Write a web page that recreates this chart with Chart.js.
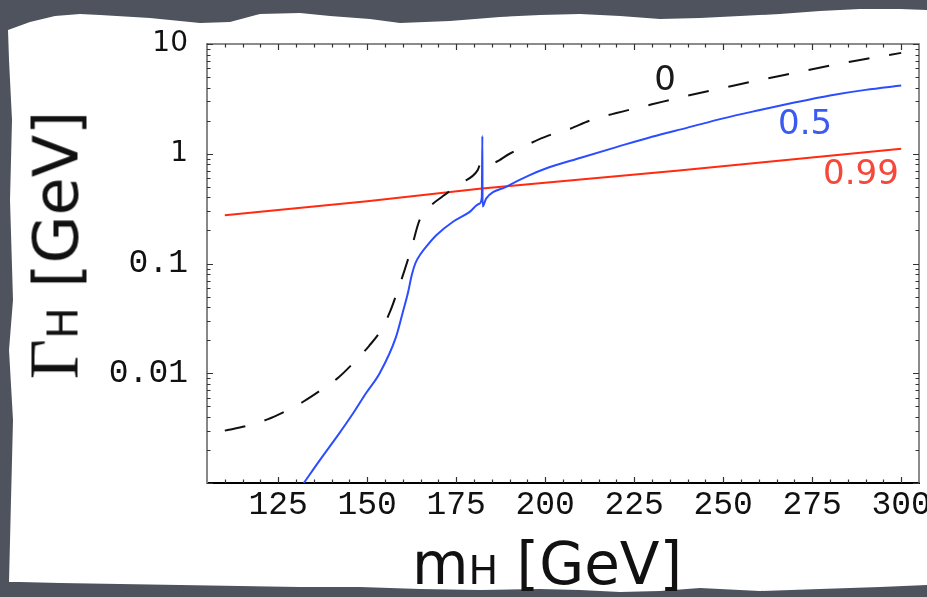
<!DOCTYPE html>
<html>
<head>
<meta charset="utf-8">
<script src="https://cdn.jsdelivr.net/npm/chart.js@4"></script>
<style>
  html, body { margin: 0; padding: 0; background: #4e535d; }
  #wrap { position: relative; width: 927px; height: 597px; overflow: hidden; background: #4e535d; }
  #paper {
    position: absolute; left: 0; top: 0; width: 927px; height: 597px; background: #ffffff;
    clip-path: polygon(8px 30px, 30px 22px, 55px 16px, 80px 14px, 100px 15px, 150px 18px, 200px 23px, 230px 22px, 260px 14px, 300px 13px, 330px 16px, 370px 19px, 400px 23px, 450px 21px, 500px 17px, 540px 15px, 580px 14px, 620px 16px, 660px 19px, 700px 18px, 740px 16px, 780px 14px, 820px 11px, 860px 9px, 900px 9px, 927px 10px, 927px 585px, 880px 587px, 820px 589px, 760px 591px, 700px 588px, 660px 591px, 620px 592px, 580px 590px, 540px 589px, 480px 590px, 420px 589px, 360px 587px, 300px 587px, 240px 586px, 180px 585px, 120px 584px, 60px 583px, 20px 582px, 9px 582px, 11px 500px, 13px 420px, 9px 350px, 13px 300px, 10px 200px, 12px 120px, 9px 60px);
  }
  canvas { position: absolute; left: 0; top: 0; }
  .xt { position: absolute; left: 412px; top: 535px; font-family: "DejaVu Sans", sans-serif; font-size: 58px; line-height: 58px; color: #111; white-space: nowrap; }
  .yt { position: absolute; left: 59px; top: 245px; font-family: "DejaVu Sans", sans-serif; font-size: 62px; line-height: 62px; color: #111; white-space: nowrap; transform: translate(-50%, -50%) rotate(-90deg); }
  .sub { font-size: 0.68em; }
  .gam { font-family: "Liberation Serif", serif; font-size: 1.12em; }
</style>
</head>
<body>
<div id="wrap">
  <div id="paper"></div>
  <canvas id="c" width="927" height="597"></canvas>
  <div class="xt">m<span class="sub">H</span> [GeV]</div>
  <div class="yt"><span class="gam">Γ</span><span class="sub">H</span> [GeV]</div>
</div>
<script>
// ---- data ----
const xTickValues = [125, 150, 175, 200, 225, 250, 275, 300];
const yTickValues = [0.01, 0.1, 1, 10];
const yTickLabels = ["0.01", "0.1", "1", "10"];

// curve "0" (black dashed)
const blackX = [110, 116, 122, 127, 132, 137.5, 142, 146.4, 150.5, 154, 156.5, 158.5, 160.5, 162.4, 164.7, 167, 171.2, 176.4, 181, 182.2, 184.8, 190, 195.5, 201, 207, 212.4, 220, 230, 240, 250, 260, 270, 280, 290, 300];
const blackY = [0.0030, 0.0033, 0.0038, 0.0045, 0.0055, 0.0072, 0.0092, 0.0127, 0.0177, 0.025, 0.037, 0.056, 0.087, 0.137, 0.248, 0.316, 0.41, 0.54, 0.705, 0.87, 0.82, 1.0, 1.23, 1.47, 1.69, 2.0, 2.35, 2.82, 3.38, 3.98, 4.68, 5.45, 6.35, 7.3, 8.3];

// curve "0.5" (blue)
const blueX = [132.2, 136.6, 142.2, 146, 149.7, 153.5, 158, 160, 161.5, 162.5, 163.5, 165, 167, 169.4, 174, 178.7, 181.5, 182.2, 182.35, 182.4, 183.4, 189, 195.5, 200, 210, 220, 230, 240, 250, 260, 270, 280, 290, 300];
const blueY = [0.001, 0.0016, 0.00285, 0.0043, 0.0066, 0.010, 0.021, 0.036, 0.055, 0.078, 0.100, 0.122, 0.148, 0.181, 0.239, 0.294, 0.35, 0.40, 1.45, 0.33, 0.39, 0.50, 0.636, 0.73, 0.92, 1.15, 1.43, 1.73, 2.10, 2.49, 2.93, 3.40, 3.82, 4.18];

// curve "0.99" (red)
const redX = [110, 150, 181.5, 237.6, 300];
const redY = [0.275, 0.37, 0.48, 0.705, 1.11];

// curve labels: text and anchor in data units
const curveLabels = ["0", "0.5", "0.99"];
const curveLabelX = [233.7, 273.0, 288.7];
const curveLabelY = [4.63, 1.81, 0.635];
const curveLabelColors = ["#1a1a1a", "#3a5af2", "#f5483a"];

const toPts = (xs, ys) => xs.map((v, i) => ({ x: v, y: ys[i] }));

const innerTicks = {
  id: 'innerTicks',
  afterDatasetsDraw(chart) {
    const { ctx, chartArea: { left, right, top, bottom }, scales: { x, y } } = chart;
    ctx.save();
    // top and right frame
    ctx.strokeStyle = '#666';
    ctx.lineWidth = 1.5;
    ctx.beginPath();
    ctx.moveTo(left, top); ctx.lineTo(right, top); ctx.lineTo(right, bottom);
    ctx.stroke();
    ctx.lineWidth = 1.2;
    ctx.strokeStyle = '#333';
    ctx.beginPath();
    for (let v = 110; v <= 300; v += 5) {
      const px = Math.round(x.getPixelForValue(v)) + 0.5;
      const len = (v % 25 === 0) ? 6 : 3.5;
      ctx.moveTo(px, bottom); ctx.lineTo(px, bottom - len);
      ctx.moveTo(px, top); ctx.lineTo(px, top + len);
    }
    for (let d = -3; d <= 1; d++) {
      for (let m = 1; m <= 9; m++) {
        const v = m * Math.pow(10, d);
        if (v > 10.0001 || v < 0.00099) continue;
        const py = Math.round(y.getPixelForValue(v)) + 0.5;
        const len = (m === 1) ? 6 : 3.5;
        ctx.moveTo(left, py); ctx.lineTo(left + len, py);
        ctx.moveTo(right, py); ctx.lineTo(right - len, py);
      }
    }
    ctx.stroke();
    // curve labels
    ctx.font = '34px "DejaVu Sans", sans-serif';
    ctx.textAlign = 'center';
    ctx.textBaseline = 'middle';
    curveLabels.forEach((t, i) => {
      ctx.fillStyle = curveLabelColors[i];
      ctx.fillText(t, x.getPixelForValue(curveLabelX[i]), y.getPixelForValue(curveLabelY[i]));
    });
    ctx.restore();
  }
};

new Chart(document.getElementById('c'), {
  type: 'line',
  data: {
    datasets: [
      { label: '0', data: toPts(blackX, blackY), borderColor: '#111', borderWidth: 2, borderDash: [21, 20], pointRadius: 0, cubicInterpolationMode: 'monotone', fill: false },
      { label: '0.5', data: toPts(blueX, blueY), borderColor: '#2b4dff', borderWidth: 2, pointRadius: 0, cubicInterpolationMode: 'monotone', fill: false },
      { label: '0.99', data: toPts(redX, redY), borderColor: '#ff2a10', borderWidth: 2, pointRadius: 0, tension: 0, fill: false }
    ]
  },
  options: {
    responsive: false,
    animation: false,
    layout: { padding: { top: 44, right: 8, left: 0, bottom: 0 } },
    plugins: { legend: { display: false }, tooltip: { enabled: false } },
    scales: {
      x: {
        type: 'linear', min: 105, max: 305,
        grid: { display: true, drawOnChartArea: false, drawTicks: false },
        border: { display: true, color: '#000', width: 2 },
        afterBuildTicks: (s) => { s.ticks = xTickValues.map(v => ({ value: v })); },
        afterFit: (s) => { s.height = 114; s.paddingLeft = 0; s.paddingRight = 0; },
        ticks: {
          autoSkip: false, maxRotation: 0, padding: 2, color: '#111',
          font: { family: '"Liberation Mono", monospace', size: 33 },
          callback: (v) => String(v)
        }
      },
      y: {
        type: 'logarithmic', min: 0.001, max: 10,
        grid: { display: true, drawOnChartArea: false, drawTicks: false },
        border: { display: true, color: '#888', width: 2 },
        afterBuildTicks: (s) => { s.ticks = yTickValues.map(v => ({ value: v })); },
        afterFit: (s) => { s.width = 207; s.paddingTop = 0; s.paddingBottom = 0; },
        ticks: {
          autoSkip: false, padding: 19, color: '#111',
          font: (ctx) => (ctx.tick && ctx.tick.value >= 1)
            ? { family: '"DejaVu Sans", sans-serif', size: 28 }
            : { family: '"Liberation Mono", monospace', size: 33 },
          callback: (v) => { const i = yTickValues.findIndex(t => Math.abs(t - v) / t < 1e-6); return i >= 0 ? yTickLabels[i] : ''; }
        }
      }
    }
  },
  plugins: [innerTicks]
});
</script>
</body>
</html>
